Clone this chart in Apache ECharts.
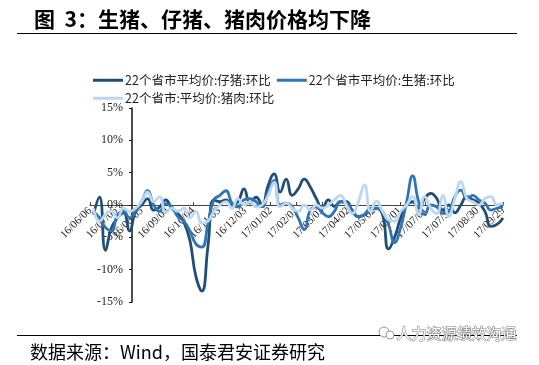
<!DOCTYPE html>
<html>
<head>
<meta charset="utf-8">
<script src="https://cdn.jsdelivr.net/npm/echarts@6/dist/echarts.min.js"></script>
<style>
html,body{margin:0;padding:0;background:#fff;}
#c{width:539px;height:365px;}
</style>
</head>
<body>
<div id="c"></div>
<script>
// ---- data ----
const seriesNames = ['22个省市平均价:仔猪:环比', '22个省市平均价:生猪:环比', '22个省市:平均价:猪肉:环比'];
const tickLabels = ['16/06/06','16/07/06','16/08/05','16/09/04','16/10/04','16/11/03','16/12/03','17/01/02','17/02/01','17/03/03','17/04/02','17/05/02','17/06/01','17/07/01','17/07/31','17/08/30','17/09/29'];
const yTicks = [-15, -10, -5, 0, 5, 10, 15];
const dates = [
 '2016-06-10','2016-06-17','2016-06-24','2016-07-01','2016-07-08','2016-07-15','2016-07-22','2016-07-29',
 '2016-08-05','2016-08-12','2016-08-19','2016-08-26','2016-09-02','2016-09-09','2016-09-16','2016-09-23','2016-09-30',
 '2016-10-07','2016-10-14','2016-10-21','2016-10-28','2016-11-04','2016-11-11','2016-11-18','2016-11-25',
 '2016-12-02','2016-12-09','2016-12-16','2016-12-23','2016-12-30',
 '2017-01-06','2017-01-13','2017-01-20','2017-01-27','2017-02-03','2017-02-10','2017-02-17','2017-02-24',
 '2017-03-03','2017-03-10','2017-03-17','2017-03-24','2017-03-31','2017-04-07','2017-04-14','2017-04-21','2017-04-28',
 '2017-05-05','2017-05-12','2017-05-19','2017-05-26','2017-06-02','2017-06-09','2017-06-16','2017-06-23','2017-06-30',
 '2017-07-07','2017-07-14','2017-07-21','2017-07-28','2017-08-04','2017-08-11','2017-08-18','2017-08-25',
 '2017-09-01','2017-09-08','2017-09-15','2017-09-22','2017-09-29'
];
// 仔猪 (piglet) week-on-week %
const piglet = [
 -1.5, 1.2, -7.0, -3.5, -2.0, -1.2, -4.0, -1.0, 0.0, 1.0,
 -0.8, -0.3, 0.8, -0.5, -1.3, -2.6, -5.4, -11.0, -13.3, -6.5,
 0.8, 0.5, 0.8, 0.0, 0.5, 2.5, 0.3, 1.2, 0.0, 3.0,
 4.8, 2.0, 4.0, 1.5, 2.5, 4.0, 2.8, 1.0, -0.5, 0.8,
 -0.2, 0.5, 0.5, -1.0, -1.8, -1.5, -0.8, -0.5, -1.5, -6.8,
 -5.0, -2.0, 0.0, 0.5, -0.5, 1.0, 1.8, 1.0, -0.8, 0.0,
 -1.2, 0.0, 1.3, 0.8, 0.3, -1.0, -3.3, -3.0, -2.0
];
// 生猪 (live hog) week-on-week %
const hog = [
 -1.0, -2.0, -3.5, -4.0, -1.5, -1.0, -2.0, -0.8, 0.5, 2.2,
 0.0, -1.0, 0.2, -0.3, -1.8, -2.5, -4.0, -6.0, -6.5, -3.0,
 0.8, 1.5, 2.2, 0.3, -0.3, 0.8, 1.0, 0.5, -0.3, 2.0,
 3.8, 0.0, 0.3, -0.3, -2.0, -3.8, -0.8, -0.3, -1.2, -1.8,
 -1.0, 0.5, 0.3, -0.8, -1.8, -1.5, -0.5, -0.5, -1.0, -3.0,
 -5.8, -3.5, 0.5, 4.5, 0.5, -1.5, 0.0, -0.3, -1.3, -1.0,
 1.3, 2.3, 1.0, 1.5, 0.8, 0.3, -0.8, -0.5, -0.3
];
// 猪肉 (pork) week-on-week %
const pork = [
 -0.5, -2.5, -1.5, -1.0, -2.0, -0.5, -1.0, -0.5, 0.5, 2.0,
 0.5, 1.3, -1.2, -0.5, -1.0, -0.5, -2.0, -1.0, -2.8, -2.5,
 -1.0, 0.0, 0.5, -0.5, 1.0, 0.0, 0.5, -0.3, 0.0, 1.5,
 3.5, -0.3, 0.3, -0.5, -1.0, 0.0, -0.8, 0.0, -0.5, 0.0,
 0.8, 1.5, 0.0, -1.3, 0.5, 3.1, -1.0, 0.6, -1.0, -2.3,
 -2.5, -1.0, 0.0, 1.3, -1.5, 1.3, -0.5, -1.3, 1.5, -1.8,
 1.0, 3.6, 1.0, 0.5, 0.0, 1.0, 1.3, 0.0, 0.3
];
const colors = ['#1f4e79', '#2e75b6', '#bdd7ee'];

// ---- build ----
const base = Date.UTC(2016, 5, 6);
const dayOf = s => Math.round((Date.parse(s) - base) / 86400000);
const xs = dates.map(dayOf);
const pairs = arr => arr.map((v, i) => [xs[i], v]);
const step = 30;
const yMin = yTicks[0], yMax = yTicks[yTicks.length - 1];
const gridTop = 108, gridH = 194;
// distance from bottom of grid up to the 0% line
const zeroOffset = gridH * (0 - yMin) / (yMax - yMin);

const chart = echarts.init(document.getElementById('c'), null, {renderer: 'canvas'});
const cjk = '"Noto Sans CJK SC", "Noto Sans", sans-serif';
const serif = '"Liberation Serif", "DejaVu Serif", serif';

chart.setOption({
  animation: false,
  backgroundColor: '#fff',
  title: {
    text: '图  3：生猪、仔猪、猪肉价格均下降',
    left: 29, top: 4,
    textStyle: {fontSize: 21, fontWeight: 'bold', fontFamily: cjk, color: '#000'}
  },
  legend: [
    {
      data: [seriesNames[0], seriesNames[1]],
      left: 88, top: 69, icon: 'rect', itemWidth: 30, itemHeight: 3, itemGap: 6,
      textStyle: {fontSize: 12.5, fontFamily: cjk, color: '#222', padding: [0, 0, 0, -3]}
    },
    {
      data: [seriesNames[2]],
      left: 88, top: 87, icon: 'rect', itemWidth: 30, itemHeight: 3,
      textStyle: {fontSize: 12.5, fontFamily: cjk, color: '#222', padding: [0, 0, 0, -3]}
    }
  ],
  grid: {left: 90, right: 36, top: gridTop, height: gridH, containLabel: false},
  xAxis: {
    type: 'value', min: 0, max: (tickLabels.length - 1) * step, interval: step,
    offset: -zeroOffset,
    axisLine: {onZero: false, lineStyle: {color: '#444', width: 1}},
    axisTick: {show: true, inside: true, length: 3, lineStyle: {color: '#444'}},
    splitLine: {show: false},
    axisLabel: {
      rotate: 45, fontSize: 11, fontFamily: serif, color: '#222', margin: 4,
      showMinLabel: true, showMaxLabel: true,
      formatter: v => tickLabels[Math.round(v / step)] || ''
    }
  },
  yAxis: {
    type: 'value', min: yMin, max: yMax, interval: 5,
    offset: -42,
    axisLine: {show: true, onZero: false, lineStyle: {color: '#111', width: 1.5}},
    axisTick: {show: true, inside: false, length: 3, lineStyle: {color: '#111'}},
    splitLine: {show: false},
    axisLabel: {fontSize: 12, fontFamily: serif, color: '#222', margin: 9, formatter: '{value}%'}
  },
  series: [piglet, hog, pork].map((arr, k) => ({
    name: seriesNames[k], type: 'line', data: pairs(arr), smooth: 0.5,
    showSymbol: false, symbol: 'none', color: colors[k],
    lineStyle: {color: colors[k], width: 2.8}
  })),
  graphic: [
    {type: 'line', shape: {x1: 17, y1: 33.5, x2: 517, y2: 33.5}, style: {stroke: '#000', lineWidth: 1}},
    {type: 'line', shape: {x1: 17, y1: 335.5, x2: 517, y2: 335.5}, style: {stroke: '#000', lineWidth: 1}},
    {type: 'text', left: 30, top: 343, style: {text: '数据来源：Wind，国泰君安证券研究', fontSize: 18, fontFamily: cjk, fill: '#000'}},
    {type: 'circle', shape: {cx: 384, cy: 332, r: 5}, style: {fill: '#fff', stroke: '#999', lineWidth: 1}},
    {type: 'circle', shape: {cx: 390, cy: 335, r: 4}, style: {fill: '#fff', stroke: '#999', lineWidth: 1}},
    {type: 'text', left: 396, top: 325, style: {text: '人力资源绩效沟通', fontSize: 15, fontFamily: cjk, fill: '#fff', stroke: '#777', lineWidth: 1}}
  ]
});
</script>
</body>
</html>
